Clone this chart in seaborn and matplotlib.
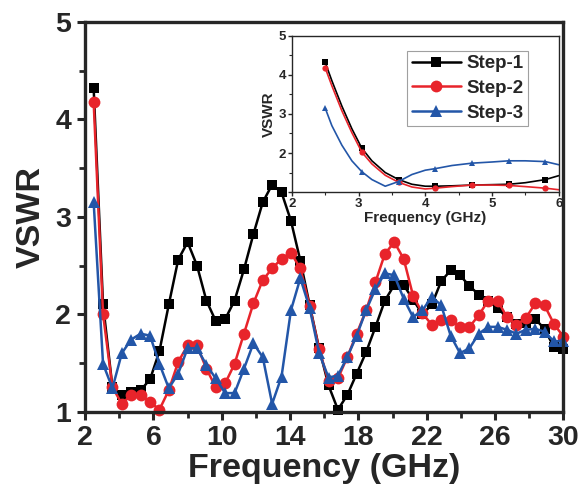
import numpy as np
import pandas as pd
import matplotlib
matplotlib.use("Agg")
import matplotlib.pyplot as plt
import seaborn as sns

# main plot: one point every 0.55 GHz from 2.5 to 30 GHz
freq = [2.5, 3.05, 3.6, 4.15, 4.7, 5.25, 5.8, 6.35, 6.9, 7.45,
        8.0, 8.55, 9.1, 9.65, 10.2, 10.75, 11.3, 11.85, 12.4, 12.95,
        13.5, 14.05, 14.6, 15.15, 15.7, 16.25, 16.8, 17.35, 17.9, 18.45,
        19.0, 19.55, 20.1, 20.65, 21.2, 21.75, 22.3, 22.85, 23.4, 23.95,
        24.5, 25.05, 25.6, 26.15, 26.7, 27.25, 27.8, 28.35, 28.9, 29.45, 30.0]

step1 = [4.32, 2.10, 1.25, 1.17, 1.20, 1.22, 1.33, 1.62, 2.10, 2.56,
         2.74, 2.50, 2.14, 1.93, 1.95, 2.14, 2.46, 2.82, 3.15, 3.33,
         3.25, 2.96, 2.55, 2.09, 1.65, 1.27, 1.02, 1.17, 1.39, 1.61,
         1.87, 2.14, 2.30, 2.30, 2.15, 2.00, 2.10, 2.34, 2.45, 2.40,
         2.29, 2.20, 2.14, 2.06, 1.97, 1.90, 1.91, 1.95, 1.85, 1.66, 1.64]

step2 = [4.18, 2.00, 1.25, 1.08, 1.17, 1.17, 1.10, 1.02, 1.22, 1.51,
         1.68, 1.68, 1.44, 1.25, 1.29, 1.49, 1.80, 2.11, 2.35, 2.47,
         2.57, 2.63, 2.47, 2.08, 1.64, 1.31, 1.34, 1.56, 1.80, 2.04,
         2.33, 2.62, 2.74, 2.57, 2.19, 2.01, 1.89, 1.94, 1.94, 1.87,
         1.87, 1.99, 2.14, 2.14, 1.97, 1.89, 1.96, 2.11, 2.09, 1.90, 1.77]

step3 = [3.15, 1.49, 1.24, 1.60, 1.74, 1.80, 1.78, 1.49, 1.24, 1.39,
         1.65, 1.65, 1.48, 1.34, 1.19, 1.19, 1.44, 1.70, 1.56, 1.08,
         1.36, 2.04, 2.37, 2.06, 1.60, 1.35, 1.37, 1.56, 1.78, 2.04,
         2.26, 2.42, 2.40, 2.16, 1.97, 2.04, 2.18, 2.09, 1.78, 1.60,
         1.65, 1.80, 1.87, 1.87, 1.84, 1.80, 1.84, 1.85, 1.82, 1.72, 1.73]

# inset (2-6 GHz)
freq_in = [2.5, 2.6, 2.75, 2.9, 3.05, 3.2, 3.4, 3.6, 3.8, 4.0,
           4.15, 4.4, 4.7, 5.0, 5.25, 5.5, 5.8, 6.0]
step1_in = [4.32, 3.85, 3.20, 2.62, 2.12, 1.80, 1.50, 1.32, 1.20, 1.15,
            1.15, 1.16, 1.18, 1.19, 1.20, 1.24, 1.32, 1.42]
step2_in = [4.18, 3.72, 3.08, 2.52, 2.02, 1.72, 1.43, 1.25, 1.13, 1.08,
            1.10, 1.14, 1.18, 1.18, 1.17, 1.14, 1.10, 1.06]
step3_in = [3.15, 2.70, 2.20, 1.80, 1.52, 1.32, 1.15, 1.27, 1.45, 1.56,
            1.60, 1.68, 1.74, 1.77, 1.80, 1.80, 1.78, 1.70]
marker_idx = [0, 4, 7, 10, 12, 14, 16]

labels = ["Step-1", "Step-2", "Step-3"]
colors = ["#000000", "#E8242B", "#2356A8"]
markers = ["s", "o", "^"]
sizes = [7, 8.5, 9]

sns.set_style("ticks")
plt.rcParams['font.family'] = ['Liberation Sans', 'DejaVu Sans']
plt.rcParams['font.weight'] = 'bold'

fig = plt.figure(figsize=(5.79, 4.90), dpi=100)
ax = fig.add_axes([0.147, 0.160, 0.826, 0.795])

for lab, ys, c, m, s in zip(labels, [step1, step2, step3], colors, markers, sizes):
    sns.lineplot(x=freq, y=ys, ax=ax, color=c, marker=m, markersize=s,
                 markeredgecolor=c, markeredgewidth=0, linewidth=1.8,
                 label=lab, clip_on=False)

ax.set_xlim(2, 30)
ax.set_ylim(1, 5)
ax.set_xticks(range(2, 31, 4))
ax.set_xticks(range(2, 31, 2), minor=True)
ax.set_yticks([1, 2, 3, 4, 5])
ax.set_yticks(np.arange(1, 5.01, 0.5), minor=True)
ax.tick_params(axis='both', which='major', labelsize=20.5, width=2.2, length=6,
               direction='out', pad=4)
ax.tick_params(axis='both', which='minor', width=2.0, length=4, direction='out')
for lbl in ax.get_xticklabels() + ax.get_yticklabels():
    lbl.set_fontweight('bold')
for sp in ax.spines.values():
    sp.set_linewidth(2.4)
ax.set_xlabel("Frequency (GHz)", fontsize=24.5, fontweight='bold', labelpad=1)
ax.set_ylabel("VSWR", fontsize=24.5, fontweight='bold', labelpad=6)
handles, _ = ax.get_legend_handles_labels()
ax.get_legend().remove()

# inset
axin = fig.add_axes([0.504, 0.608, 0.461, 0.319])
axin.set_facecolor("white")
for ys, c, m in zip([step1_in, step2_in, step3_in], colors, markers):
    sns.lineplot(x=freq_in, y=ys, ax=axin, color=c, marker=m, markersize=4.5,
                 markeredgecolor=c, markeredgewidth=0, linewidth=1.2,
                 markevery=marker_idx)
axin.set_xlim(2, 6)
axin.set_ylim(1, 5)
axin.set_xticks([2, 3, 4, 5, 6])
axin.set_yticks([1, 2, 3, 4, 5])
axin.set_yticklabels(["", "2", "3", "4", "5"])
axin.set_xticks(np.arange(2, 6.01, 0.5), minor=True)
axin.set_yticks(np.arange(1, 5.01, 0.5), minor=True)
axin.tick_params(axis='both', which='major', labelsize=9.5, width=1.0, length=3, pad=1)
axin.tick_params(axis='both', which='minor', width=0.8, length=2)
for lbl in axin.get_xticklabels() + axin.get_yticklabels():
    lbl.set_fontweight('bold')
for sp in axin.spines.values():
    sp.set_linewidth(1.0)
axin.set_xlabel("Frequency (GHz)", fontsize=11, fontweight='bold', labelpad=1)
axin.set_ylabel("VSWR", fontsize=11, fontweight='bold', labelpad=2)
leg = axin.legend(handles, labels, loc='upper right', bbox_to_anchor=(0.885, 0.905),
                  prop={'size': 13.5, 'weight': 'bold'}, frameon=True, fancybox=False,
                  handlelength=2.6, handletextpad=0.3, borderpad=0.25,
                  labelspacing=0.4, borderaxespad=0)
leg.get_frame().set_edgecolor('#888888')
leg.get_frame().set_linewidth(0.8)

fig.savefig("out.png", dpi=100)
